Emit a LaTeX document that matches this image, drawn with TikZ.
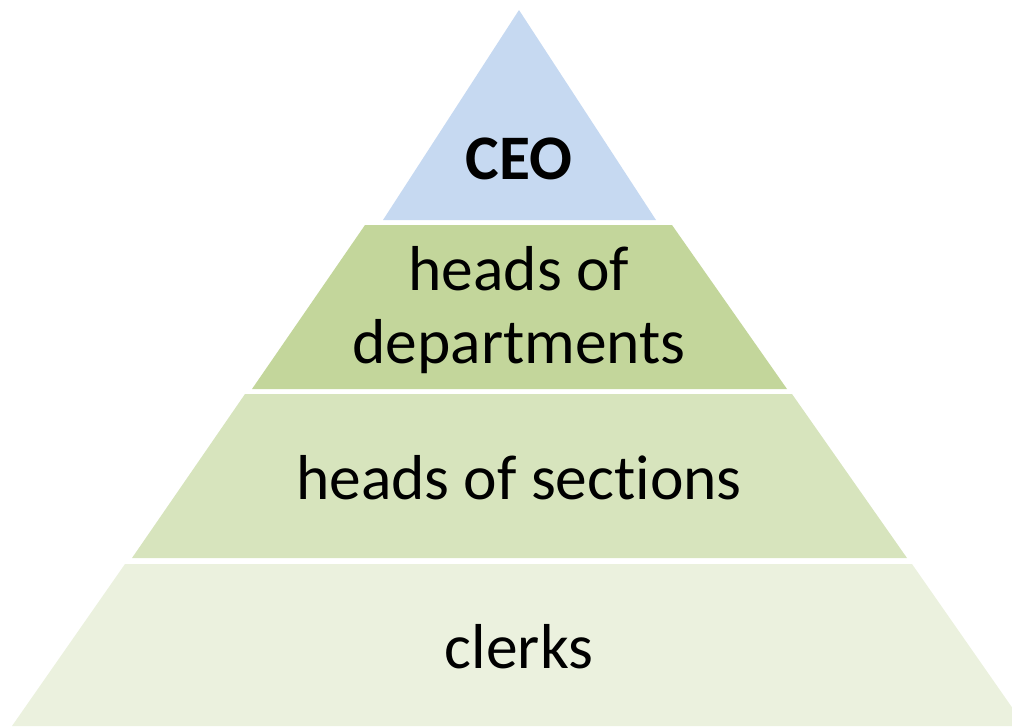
\documentclass[tikz,border=0pt]{standalone}
\usepackage{xcolor}
\usepackage{fontspec}
\setmainfont[Ligatures=NoCommon]{Carlito}
\usepackage{tikz}

\definecolor{topblue}{HTML}{C6D9F1}
\definecolor{greenA}{HTML}{C3D69B}
\definecolor{greenB}{HTML}{D7E4BD}
\definecolor{greenC}{HTML}{EBF1DE}

\tikzset{
    tier/.style={draw=none},
    label/.style={draw=none, anchor=base, align=center, font=\fontsize{47.6}{54.75}\selectfont}
}

\begin{document}
\begin{tikzpicture}[x=.75pt, y=-.75pt]
            \useasboundingbox (0, 0) rectangle (1012, 726);
            \clip (0, 0) rectangle (1012, 726);

            % levels of the pyramid
            \fill[tier, topblue] (519, 10) -- (656, 220) -- (383, 220) -- cycle;
            \fill[tier, greenA] (365, 225) -- (672, 225) -- (787, 389) -- (252, 389) -- cycle;
            \fill[tier, greenB] (245, 394) -- (792, 394) -- (907, 558) -- (132, 558) -- cycle;
            \fill[tier, greenC] (125, 564) -- (912, 564) -- (1025, 726) -- (12, 726) -- cycle;

            % base anchor of a two-line node sits on its last line
            \node[label] (ceo) at (519, 179) {\textbf{CEO}};
            \node[label] (heads) at (519, 363) {heads of\\departments};
            \node[label] (sections) at (519, 499) {heads of sections};
            \node[label] (clerks) at (519, 668) {clerks};
\end{tikzpicture}
\end{document}
